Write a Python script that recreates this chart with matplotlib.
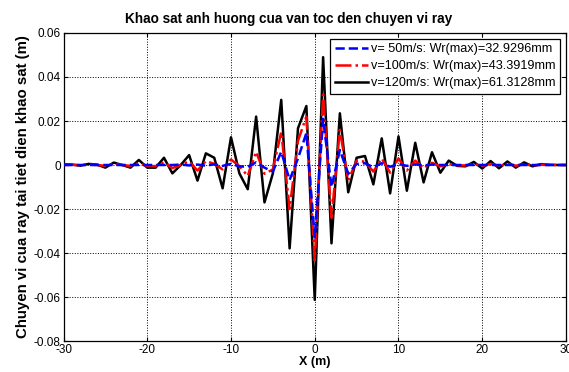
import numpy as np
import matplotlib
matplotlib.use("Agg")
import matplotlib.pyplot as plt

plt.rcParams['font.family'] = ['Liberation Sans', 'DejaVu Sans']
plt.rcParams['axes.unicode_minus'] = False

# x positions along the rail (m)
x = np.arange(-30, 31)

# v = 50 m/s
w50 = [0, 0, 0, 0, 0, 0, 0, 0, 0, 0,
       0, 0, 0, 0, 0.0002, -0.0002, 0.0002, -0.0003, 0.0003, -0.0004,
       0.0005, -0.0006, -0.0008, 0.0012, -0.0012, -0.003, 0.006, -0.0068, 0.003, 0.0145,
       -0.0329,
       0.021, -0.01, 0.0068, -0.004, 0.0005, 0.0008, -0.001, 0.0008, -0.0008, 0.0005,
       -0.0004, 0.0003, -0.0002, 0.0002, 0, 0, 0, 0, 0, 0,
       0, 0, 0, 0, 0, 0, 0, 0, 0, 0]

# v = 100 m/s
w100 = [0, 0.0001, -0.0001, 0.0002, 0, -0.0004, 0.0004, 0, -0.0004, 0.0008,
        -0.0005, -0.0005, 0.0012, -0.0014, 0, 0.0016, -0.0025, 0.0018, 0.0005, -0.002,
        0.0025, -0.0005, -0.005, 0.006, -0.004, -0.002, 0.015, -0.02, 0.011, 0.022,
        -0.0434,
        0.032, -0.024, 0.016, -0.007, 0.002, 0.0015, -0.003, 0.003, -0.0035, 0.003,
        -0.0025, 0.002, -0.0015, 0.001, -0.0006, 0.0004, -0.0001, -0.0002, 0.0004, -0.0005,
        0.0005, -0.0004, 0.0005, -0.0003, 0.0003, -0.0002, 0.0001, 0, 0, 0]

# v = 120 m/s
w120 = [0.0003, 0.0002, -0.0003, 0.0005, 0.0002, -0.0012, 0.0011, 0.0, -0.0012, 0.0023,
        -0.0012, -0.0012, 0.0033, -0.0038, 0.0, 0.0045, -0.0071, 0.0053, 0.0033, -0.0106,
        0.0126, -0.0038, -0.011, 0.022, -0.017, -0.0038, 0.0296, -0.0379, 0.0167, 0.0268,
        -0.0613,
        0.049, -0.0356, 0.0235, -0.0124, 0.0033, 0.0041, -0.0088, 0.0121, -0.0129, 0.013,
        -0.0117, 0.0101, -0.0079, 0.0058, -0.0035, 0.002, -0.0004, -0.0006, 0.0014, -0.0016,
        0.0018, -0.0015, 0.0016, -0.0012, 0.0012, -0.0006, 0.0004, 0.0001, 0.0, 0.0]

labels = ['v= 50m/s: Wr(max)=32.9296mm',
          'v=100m/s: Wr(max)=43.3919mm',
          'v=120m/s: Wr(max)=61.3128mm']

fig = plt.figure(figsize=(5.69, 3.72), dpi=100)
ax = fig.add_axes([0.1116, 0.0833, 0.8831, 0.828])

lw = 1.8
l3, = ax.plot(x, w120, color='black', lw=lw, ls='-', zorder=2)
l2, = ax.plot(x, w100, color='red', lw=lw, ls='-.', zorder=3)
l1, = ax.plot(x, w50, color='blue', lw=lw, ls='--', zorder=4)

ax.set_xlim(-30, 30)
ax.set_ylim(-0.08, 0.06)
ax.set_xticks(np.arange(-30, 31, 10))
ax.set_yticks(np.arange(-0.08, 0.061, 0.02))
ax.set_yticklabels(['-0.08', '-0.06', '-0.04', '-0.02', '0', '0.02', '0.04', '0.06'])
ax.grid(True, color='black', ls=':', lw=0.7)
ax.tick_params(direction='in', top=True, right=True, labelsize=8.5, length=3, pad=2)
for s in ax.spines.values():
    s.set_linewidth(0.9)

ax.set_title('Khao sat anh huong cua van toc den chuyen vi ray',
             fontsize=9.8, fontweight='bold', pad=7, x=0.448)
ax.set_xlabel('X (m)', fontsize=9, fontweight='bold', labelpad=0)
ax.set_ylabel('Chuyen vi cua ray tai tiet dien khao sat (m)',
              fontsize=10.8, fontweight='bold', labelpad=3)

leg = ax.legend([l1, l2, l3], labels, loc='upper right', fontsize=9.1,
                handlelength=2.6, borderaxespad=0.45, fancybox=False,
                framealpha=1, edgecolor='black', borderpad=0.35,
                labelspacing=0.4, handletextpad=0.3)
leg.get_frame().set_linewidth(0.9)

fig.savefig('out.png', dpi=100)
